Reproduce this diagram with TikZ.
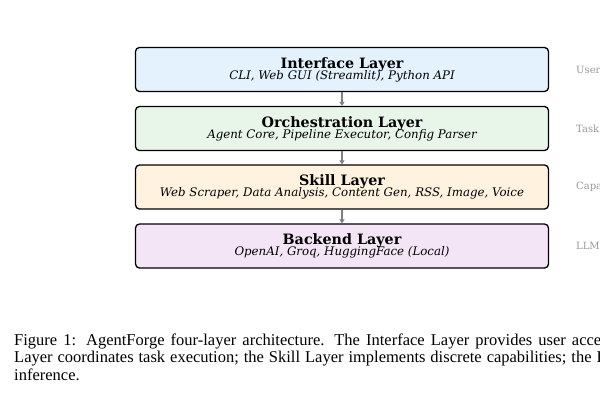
\documentclass[tikz,border=0pt]{standalone}
\usepackage{fontspec}
\setmainfont{Liberation Serif}
\newfontfamily\djs{DejaVu Serif}
\usetikzlibrary{arrows.meta}
\definecolor{cInt}{HTML}{E3F2FD}
\definecolor{cOrc}{HTML}{E8F5E9}
\definecolor{cSki}{HTML}{FFF3E0}
\definecolor{cBac}{HTML}{F3E5F5}
\definecolor{sidegray}{HTML}{999999}
\definecolor{arrgray}{HTML}{808080}
\newcommand{\capfont}{\fontsize{16.5}{18}\selectfont\spaceskip=0.37em\relax}
\newcommand{\capfontb}{\fontsize{16.5}{18}\selectfont\spaceskip=0.30em\relax}
\tikzset{
  layer/.style={draw=black, line width=1.3pt, rounded corners=4pt, minimum width=413pt, minimum height=44pt, inner sep=0pt, align=center},
  sidelbl/.style={anchor=west, text=sidegray, font=\djs\fontsize{10}{12}\selectfont, inner sep=0pt},
  capline/.style={anchor=base west, font=\capfont, inner sep=0pt},
  conn/.style={draw=arrgray, line width=1.2pt, -{Triangle[length=4pt,width=5pt]}}
}
\newcommand{\ltitle}[1]{{\djs\bfseries\fontsize{14.3}{16}\selectfont #1}}
\newcommand{\lsub}[1]{{\djs\itshape\fontsize{11.8}{13}\selectfont #1}}
\begin{document}
\begin{tikzpicture}[x=1pt,y=-1pt]
\useasboundingbox (0,0) rectangle (600,400);
\clip (0,0) rectangle (600,400);
\fill[white] (0,0) rectangle (600,400);
\node[layer, fill=cInt] (int) at (342,69.5) {\ltitle{Interface Layer}\\[-2pt]\lsub{CLI, Web GUI (Streamlit), Python API}};
\node[layer, fill=cOrc] (orc) at (342,128.5) {\ltitle{Orchestration Layer}\\[-2pt]\lsub{Agent Core, Pipeline Executor, Config Parser}};
\node[layer, fill=cSki] (ski) at (342,187) {\ltitle{Skill Layer}\\[-2pt]\lsub{Web Scraper, Data Analysis, Content Gen, RSS, Image, Voice}};
\node[layer, fill=cBac] (bac) at (342,246) {\ltitle{Backend Layer}\\[-2pt]\lsub{OpenAI, Groq, HuggingFace (Local)}};
\draw[conn] (int.south) -- (orc.north);
\draw[conn] (orc.south) -- (ski.north);
\draw[conn] (ski.south) -- (bac.north);
\node[sidelbl] (s1) at (576,69.5) {User Access};
\node[sidelbl] (s2) at (576,128.5) {Task Coordination};
\node[sidelbl] (s3) at (576,187) {Capabilities};
\node[sidelbl] (s4) at (576,246) {LLM Inference};
\node[capline] (c1) at (14,345) {Figure 1:\hspace{0.6em}AgentForge four-layer architecture.\hspace{0.6em}The Interface Layer provides user access; the Orchestration};
\node[capline, font=\capfontb] (c2) at (14,362.5) {Layer coordinates task execution; the Skill Layer implements discrete capabilities; the Backend Layer handles LLM};
\node[capline] (c3) at (14,380) {inference.};
\end{tikzpicture}
\end{document}
